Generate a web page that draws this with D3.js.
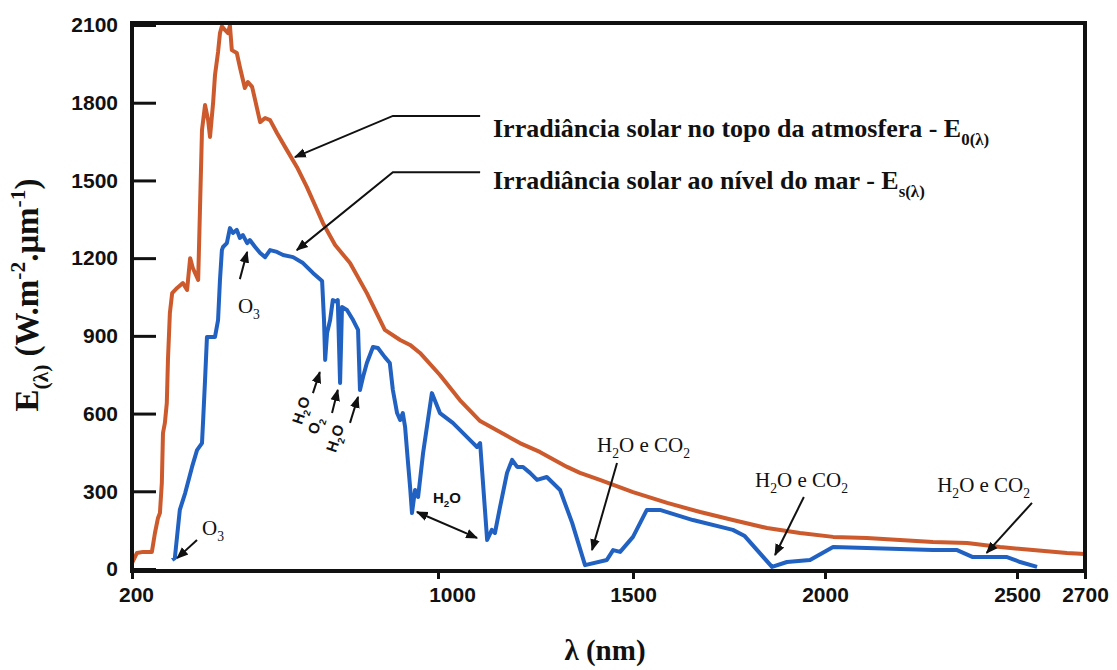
<!DOCTYPE html>
<html>
<head>
<meta charset="utf-8">
<script src="https://cdn.jsdelivr.net/npm/d3@7"></script>
<style>
  body { margin: 0; background: #fff; }
</style>
</head>
<body>
<svg id="plot" width="1117" height="670"></svg>
<script>
// irradiance at the top of the atmosphere: wavelength (nm) / W.m-2.um-1
var topWl = [200,213,229,252,260,268,273,278,281,286,291,294,299,305,318,333,344,352,359,373,
             383,391,399,404,412,417,425,430,435,443,451,456,461,474,482,495,503,514,522,535,
             548,561,579,605,631,657,684,699,731,770,814,861,901,927,953,1005,1056,1108,1159,1210,
             1261,1331,1364,1415,1500,1589,1675,1760,1849,1935,2021,2109,2195,2281,2370,2456,2547,2647,2700];
var topVal = [23,62,66,66,139,197,216,332,525,564,641,807,988,1065,1085,1104,1077,1200,1162,1116,
              1695,1791,1733,1668,1799,1907,1996,2069,2095,2081,2069,2098,2003,1992,1938,1857,1880,1861,1810,1725,
              1741,1733,1683,1617,1552,1475,1386,1336,1251,1181,1065,923,884,865,834,749,652,571,529,486,
              452,394,371,344,297,255,220,189,158,139,124,120,112,104,100,85,73,62,58];

// irradiance at sea level
var seaWl = [305,312,325,339,357,370,383,386,391,396,417,425,430,435,438,448,456,464,474,482,
             490,501,508,522,535,548,561,579,595,621,647,673,697,702,705,710,718,725,736,738,
             744,749,762,778,791,796,804,814,830,843,861,874,882,893,901,908,914,921,927,932,
             940,948,961,984,1005,1038,1090,1100,1108,1126,1138,1146,1159,1177,1190,1203,1218,1236,1254,1279,
             1313,1344,1377,1433,1449,1467,1500,1536,1570,1656,1760,1791,1862,1901,1961,2021,2109,2281,2344,2385,
             2474,2509,2559];
var seaVal = [35,42,228,293,394,459,486,575,730,896,896,961,1116,1231,1243,1258,1316,1297,1309,1278,
              1289,1258,1270,1243,1220,1204,1231,1224,1212,1204,1181,1143,1112,961,807,911,961,1038,1031,1038,
              718,1011,1000,961,923,691,741,795,857,853,818,795,691,602,575,602,548,421,317,216,
              305,278,448,679,602,564,486,471,486,112,151,139,239,371,421,394,394,371,344,355,
              305,178,15,35,73,66,124,228,228,189,151,127,8,27,35,85,81,73,73,46,
              46,27,8];

var xTicks = [200, 1000, 1500, 2000, 2500, 2700];
var yTicks = [0, 300, 600, 900, 1200, 1500, 1800, 2100];

// annotations, placed in data coordinates (nm, irradiance)
var h2oCo2 = [['H'], ['2', 'sub'], ['O e CO'], ['2', 'sub']];
var ozone = [['O'], ['3', 'sub']];
var serifLabels = [
  { parts: ozone, at: [477, 988] },
  { parts: ozone, at: [383, 131] },
  { parts: h2oCo2, at: [1408, 452] },
  { parts: h2oCo2, at: [1818, 317] },
  { parts: h2oCo2, at: [2292, 297] }
];
var bandLabels = [
  { parts: [['H'], ['2', 'sub'], ['O']], at: [655, 606] },
  { parts: [['O'], ['2', 'sub']], at: [691, 548] },
  { parts: [['H'], ['2', 'sub'], ['O']], at: [744, 498] }
];
var arrows = [
  [[482, 1119], [501, 1224]],
  [[370, 112], [318, 42]],
  [[673, 679], [691, 760]],
  [[723, 602], [738, 691]],
  [[770, 564], [791, 664]],
  [[1459, 409], [1395, 73]],
  [[1945, 278], [1870, 54]],
  [[2544, 255], [2421, 62]],
  [[1108, 1749], [882, 1749], [626, 1590]],
  [[1108, 1532], [882, 1532], [631, 1231]]
];
var doubleArrow = [[945, 220], [1100, 120]];
var legendLines = [
  { parts: [['Irradiância solar no topo da atmosfera - E'], ['0(λ)', 'sub']], at: [1141, 1668] },
  { parts: [['Irradiância solar ao nível do mar - E'], ['s(λ)', 'sub']], at: [1141, 1467] }
];

var orange = '#cc5a2c', blue = '#2161c1';
var sans = 'Liberation Sans, Arial, sans-serif';
var serif = 'Liberation Serif, Times New Roman, serif';

var svg = d3.select('#plot');

var x = d3.scaleLinear().domain(xTicks).range([132, 438, 633, 825, 1017, 1085]);
var y = d3.scaleLinear().domain([0, 2100]).range([569, 25]);

// arrow head
svg.append('defs').append('marker')
  .attr('id', 'arr')
  .attr('viewBox', '0 0 10 10')
  .attr('refX', 9).attr('refY', 5)
  .attr('markerWidth', 6).attr('markerHeight', 6)
  .attr('orient', 'auto-start-reverse')
  .append('path').attr('d', 'M0,1L10,5L0,9Z').attr('fill', '#111');

// adds tspans with sub / superscripts
function rich(sel, parts, size) {
  var shift = 0;
  parts.forEach(function(p) {
    var target = p[1] == 'sub' ? size * 0.3 : (p[1] == 'sup' ? -size * 0.4 : 0);
    sel.append('tspan')
      .attr('dy', target - shift)
      .attr('font-size', p[1] ? size * 0.65 : size)
      .text(p[0]);
    shift = target;
  });
}

// axes
var yAxis = d3.axisLeft(y).tickValues(yTicks).tickFormat(d3.format('d')).tickSize(-24).tickPadding(14);
var xAxis = d3.axisBottom(x).tickValues(xTicks).tickFormat(d3.format('d')).tickSize(8).tickPadding(8);

var gy = svg.append('g').attr('transform', 'translate(' + x(200) + ',0)').call(yAxis);
var gx = svg.append('g').attr('transform', 'translate(0,571)').call(xAxis);

[gx, gy].forEach(function(g) {
  g.select('.domain').remove();
  g.selectAll('line').attr('stroke', '#111').attr('stroke-width', 3);
  g.selectAll('text')
    .attr('fill', '#111')
    .attr('font-family', sans)
    .attr('font-weight', 'bold')
    .attr('font-size', 21);
});
gx.selectAll('text').attr('dx', function(d) { return d == 1000 ? 14 : (d == 200 ? 4 : 0); });

// curves
var line = d3.line()
  .x(function(d) { return x(d[0]); })
  .y(function(d) { return y(d[1]); });

svg.append('path')
  .datum(d3.zip(topWl, topVal))
  .attr('d', line)
  .attr('fill', 'none')
  .attr('stroke', orange)
  .attr('stroke-width', 4)
  .attr('stroke-linejoin', 'round');

svg.append('path')
  .datum(d3.zip(seaWl, seaVal))
  .attr('d', line)
  .attr('fill', 'none')
  .attr('stroke', blue)
  .attr('stroke-width', 4)
  .attr('stroke-linejoin', 'round');

// frame
svg.append('rect')
  .attr('x', x(200)).attr('y', 23)
  .attr('width', x(2700) - x(200)).attr('height', 571 - 23)
  .attr('fill', 'none')
  .attr('stroke', '#111')
  .attr('stroke-width', 4);

// arrows
svg.selectAll('.arrow')
  .data(arrows)
  .enter()
  .append('path')
  .attr('d', line)
  .attr('fill', 'none')
  .attr('stroke', '#111')
  .attr('stroke-width', 2)
  .attr('marker-end', 'url(#arr)');

svg.append('path')
  .attr('d', line(doubleArrow))
  .attr('fill', 'none')
  .attr('stroke', '#111')
  .attr('stroke-width', 2)
  .attr('marker-start', 'url(#arr)')
  .attr('marker-end', 'url(#arr)');

// text labels
serifLabels.forEach(function(l) {
  var t = svg.append('text')
    .attr('x', x(l.at[0])).attr('y', y(l.at[1]))
    .attr('font-family', serif)
    .attr('fill', '#111');
  rich(t, l.parts, 21);
});

bandLabels.forEach(function(l) {
  var t = svg.append('text')
    .attr('transform', 'translate(' + x(l.at[0]) + ',' + y(l.at[1]) + ') rotate(-72)')
    .attr('text-anchor', 'middle')
    .attr('font-family', sans)
    .attr('font-weight', 'bold')
    .attr('fill', '#111');
  rich(t, l.parts, 15);
});

var smallH2o = svg.append('text')
  .attr('x', x(1023)).attr('y', y(255))
  .attr('text-anchor', 'middle')
  .attr('font-family', sans)
  .attr('font-weight', 'bold')
  .attr('fill', '#111');
rich(smallH2o, [['H'], ['2', 'sub'], ['O']], 15);

legendLines.forEach(function(l) {
  var t = svg.append('text')
    .attr('x', x(l.at[0])).attr('y', y(l.at[1]))
    .attr('font-family', serif)
    .attr('font-weight', 'bold')
    .attr('fill', '#111');
  rich(t, l.parts, 26);
});

// axis titles
var yTitle = svg.append('text')
  .attr('transform', 'translate(38,295) rotate(-90)')
  .attr('text-anchor', 'middle')
  .attr('font-family', serif)
  .attr('font-weight', 'bold')
  .attr('fill', '#111');
rich(yTitle, [['E'], ['(λ)', 'sub'], [' (W.m'], ['-2', 'sup'], ['.μm'], ['-1', 'sup'], [')']], 33);

svg.append('text')
  .attr('x', 605).attr('y', 660)
  .attr('text-anchor', 'middle')
  .attr('font-family', serif)
  .attr('font-weight', 'bold')
  .attr('font-size', 29)
  .attr('fill', '#111')
  .text('λ (nm)');
</script>
</body>
</html>
